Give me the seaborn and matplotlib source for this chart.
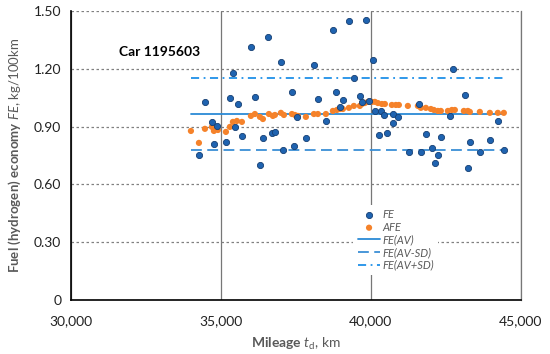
import numpy as np
import pandas as pd
import matplotlib
matplotlib.use('Agg')
import matplotlib.pyplot as plt
import seaborn as sns

# FE measurements (mileage km, kg/100km)
fe_km = [34267, 34467, 34700, 34767, 34867, 35167, 35300, 35400, 35467, 35567,
         35700, 36000, 36133, 36300, 36400, 36567, 36700, 36800, 37000, 37067,
         37367, 37433, 37533, 37833, 38100, 38233, 38500, 38733, 38833, 38967,
         39067, 39267, 39433, 39633, 39700, 39833, 39933, 40067, 40133, 40267,
         40333, 40433, 40533, 40733, 40733, 40900, 41267, 41600, 41667, 41833,
         42033, 42133, 42233, 42333, 42633, 42733, 43133, 43233, 43300, 43633,
         43967, 44233, 44433]
fe_val = [0.753, 1.028, 0.924, 0.810, 0.903, 0.820, 1.048, 1.178, 0.898, 1.017,
          0.851, 1.313, 1.054, 0.701, 0.841, 1.365, 0.867, 0.872, 1.235, 0.779,
          1.080, 0.799, 0.950, 0.841, 1.220, 1.043, 0.929, 1.401, 1.080, 1.002,
          1.038, 1.448, 1.152, 1.059, 1.028, 1.453, 1.033, 1.246, 0.981, 0.856,
          0.981, 0.960, 0.867, 0.965, 0.919, 0.950, 0.768, 1.017, 0.768, 0.862,
          0.789, 0.711, 0.753, 0.846, 0.955, 1.199, 1.064, 0.685, 0.820, 0.768,
          0.830, 0.929, 0.779]

# AFE (averaged fuel economy)
afe_km = [34000, 34267, 34467, 34700, 34767, 34900, 35167, 35300, 35400, 35533,
          35700, 36000, 36133, 36300, 36400, 36600, 36733, 36800, 37000, 37100,
          37367, 37467, 37567, 37833, 38100, 38233, 38500, 38733, 38867, 38967,
          39067, 39267, 39433, 39633, 39700, 39800, 39900, 40033, 40133, 40233,
          40367, 40467, 40700, 40833, 40933, 41233, 41567, 41667, 41833, 42000,
          42100, 42233, 42333, 42567, 42700, 42800, 43100, 43233, 43300, 43633,
          43967, 44233, 44433]
afe_val = [0.877, 0.815, 0.888, 0.898, 0.877, 0.882, 0.872, 0.898, 0.924, 0.929,
           0.924, 0.955, 0.965, 0.950, 0.939, 0.965, 0.955, 0.960, 0.971, 0.960,
           0.965, 0.960, 0.955, 0.950, 0.965, 0.965, 0.965, 0.981, 0.986, 0.991,
           0.991, 0.997, 1.007, 1.007, 1.017, 1.022, 1.028, 1.028, 1.028, 1.022,
           1.017, 1.017, 1.012, 1.012, 1.012, 1.007, 1.007, 0.997, 0.997, 0.991,
           0.986, 0.981, 0.981, 0.981, 0.986, 0.986, 0.981, 0.981, 0.976, 0.976,
           0.971, 0.971, 0.971]

fe_av = 0.965
fe_sd = 0.185
line_km = [34000, 44450]

x_ticks = [30000, 35000, 40000, 45000]
y_ticks = [0, 0.30, 0.60, 0.90, 1.20, 1.50]
y_ticklabels = ['0', '0.30', '0.60', '0.90', '1.20', '1.50']

sns.set_style('white')
plt.rcParams['font.family'] = ['Lato', 'DejaVu Sans']
plt.rcParams['mathtext.fontset'] = 'custom'
plt.rcParams['mathtext.rm'] = 'Lato'
plt.rcParams['mathtext.it'] = 'Lato:italic'
plt.rcParams['mathtext.bf'] = 'Lato:bold'

fe_df = pd.DataFrame({'km': fe_km, 'fe': fe_val})
afe_df = pd.DataFrame({'km': afe_km, 'afe': afe_val})
lines_df = pd.DataFrame({
    'km': line_km * 3,
    'val': [fe_av] * 2 + [fe_av - fe_sd] * 2 + [fe_av + fe_sd] * 2,
    'kind': ['FE(AV)'] * 2 + ['FE(AV-SD)'] * 2 + ['FE(AV+SD)'] * 2,
})

fig, ax = plt.subplots(figsize=(5.5, 3.54), dpi=100)
fig.subplots_adjust(left=0.129, right=0.947, top=0.969, bottom=0.153)

sns.scatterplot(data=fe_df, x='km', y='fe', ax=ax, color='#1f63b0',
                edgecolor='#163f73', linewidth=0.6, s=20, zorder=4, label='FE')
sns.scatterplot(data=afe_df, x='km', y='afe', ax=ax, color='#f5822a',
                edgecolor='none', s=20, zorder=3, label='AFE')

styles = {'FE(AV)': ('#2b8ad6', '-'),
          'FE(AV-SD)': ('#3a8fd6', (0, (6, 3))),
          'FE(AV+SD)': ('#1f90e8', (0, (4.5, 2.5, 1, 2.5)))}
for kind, (col, ls) in styles.items():
    sub = lines_df[lines_df['kind'] == kind]
    sns.lineplot(data=sub, x='km', y='val', ax=ax, color=col, linestyle=ls,
                 linewidth=1.3, zorder=2, label=kind)

ax.set_xlim(30000, 45000)
ax.set_ylim(0, 1.5)
ax.set_xticks(x_ticks)
ax.set_xticklabels([f'{v:,}' for v in x_ticks])
ax.set_yticks(y_ticks)
ax.set_yticklabels(y_ticklabels)
ax.tick_params(axis='both', length=0, labelsize=10, colors='#222222')
ax.tick_params(axis='x', pad=11)
ax.tick_params(axis='y', pad=7)

ax.set_axisbelow(True)
ax.yaxis.grid(True, color='#808080', linestyle=(0, (2, 2)), linewidth=0.9)
ax.xaxis.grid(True, color='#777777', linestyle='-', linewidth=0.9)
ax.spines['top'].set_visible(False)
ax.spines['right'].set_visible(True)
ax.spines['right'].set_color('#777777')
ax.spines['right'].set_linewidth(0.9)
for side in ['left', 'bottom']:
    ax.spines[side].set_color('black')
    ax.spines[side].set_linewidth(1.2)

ax.set_xlabel(r'$\mathbf{Mileage}$ $t_{\mathrm{d}}$, km', fontsize=10,
              color='#595959', labelpad=6)
ax.set_ylabel(r'$\mathbf{Fuel\ (hydrogen)\ economy}$ $FE$, kg/100km',
              fontsize=9.5, color='#595959', labelpad=8)

ax.text(31600, 1.287, 'Car 1195603', fontsize=10, fontweight='bold',
        va='center', ha='left', color='black')

leg = ax.legend(loc='upper left', bbox_to_anchor=(0.628, 0.33),
                frameon=True, facecolor='white', edgecolor='none', framealpha=1,
                prop={'style': 'italic', 'size': 8}, labelcolor='#595959',
                handlelength=2.0, handletextpad=0.2, labelspacing=0.15,
                borderpad=0.4, borderaxespad=0)

fig.savefig('out.png', dpi=100)
